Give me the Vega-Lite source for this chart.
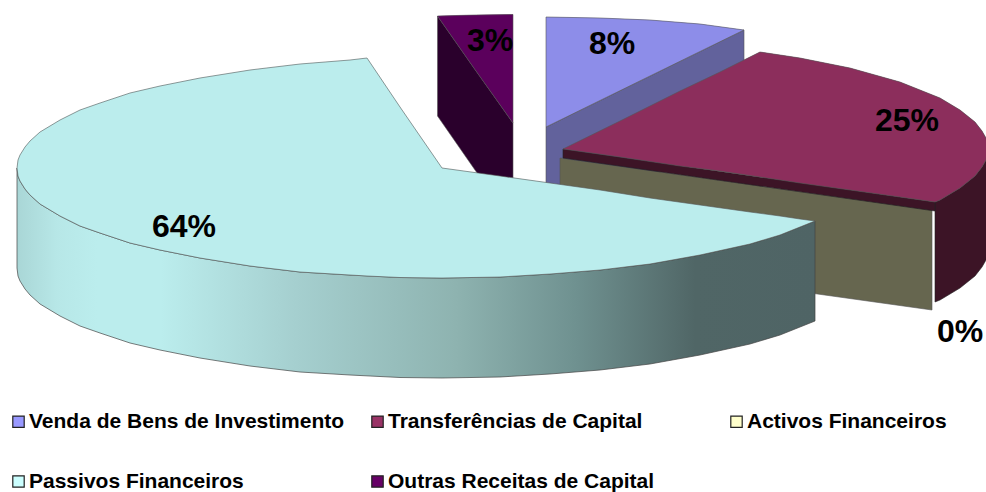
{
"$schema":"https://vega.github.io/schema/vega-lite/v6.json",
"width":986,"height":492,"padding":0,
"autosize":{"type":"none"},
"background":"white",
"config":{"view":{"stroke":null}},
"datasets":{
"outline":[
{"slice":"Outras Receitas de Capital","part":"top","x":437.5,"y":16,"y2":16},
{"slice":"Outras Receitas de Capital","part":"top","x":475,"y":15,"y2":69.5},
{"slice":"Outras Receitas de Capital","part":"top","x":513,"y":14.5,"y2":123},
{"slice":"Outras Receitas de Capital","part":"wall","x":437.5,"y":16,"y2":116},
{"slice":"Outras Receitas de Capital","part":"wall","x":475,"y":69.5,"y2":170},
{"slice":"Outras Receitas de Capital","part":"wall","x":513,"y":123,"y2":223},
{"slice":"Venda de Bens de Investimento","part":"top","x":546,"y":17,"y2":127},
{"slice":"Venda de Bens de Investimento","part":"top","x":600,"y":18,"y2":100.5},
{"slice":"Venda de Bens de Investimento","part":"top","x":650,"y":20,"y2":76},
{"slice":"Venda de Bens de Investimento","part":"top","x":700,"y":24,"y2":51.5},
{"slice":"Venda de Bens de Investimento","part":"top","x":744,"y":30,"y2":30},
{"slice":"Venda de Bens de Investimento","part":"wall","x":546,"y":127,"y2":227},
{"slice":"Venda de Bens de Investimento","part":"wall","x":744,"y":30,"y2":130},
{"slice":"Activos Financeiros","part":"wall","x":560,"y":158,"y2":258},
{"slice":"Activos Financeiros","part":"wall","x":932,"y":210,"y2":310},
{"slice":"Transferências de Capital","part":"wall","x":935,"y":202,"y2":302},
{"slice":"Transferências de Capital","part":"wall","x":940,"y":200,"y2":300},
{"slice":"Transferências de Capital","part":"wall","x":960,"y":188,"y2":288},
{"slice":"Transferências de Capital","part":"wall","x":975,"y":176,"y2":276},
{"slice":"Transferências de Capital","part":"wall","x":982,"y":167,"y2":267},
{"slice":"Transferências de Capital","part":"wall","x":986,"y":160,"y2":260},
{"slice":"Transferências de Capital","part":"wall","x":988,"y":149,"y2":249},
{"slice":"Transferências de Capital","part":"front","x":563,"y":149,"y2":158},
{"slice":"Transferências de Capital","part":"front","x":935,"y":202,"y2":211},
{"slice":"Transferências de Capital","part":"top","x":563,"y":149,"y2":149},
{"slice":"Transferências de Capital","part":"top","x":620,"y":121,"y2":157},
{"slice":"Transferências de Capital","part":"top","x":680,"y":91,"y2":166},
{"slice":"Transferências de Capital","part":"top","x":720,"y":72,"y2":171},
{"slice":"Transferências de Capital","part":"top","x":760,"y":52,"y2":177},
{"slice":"Transferências de Capital","part":"top","x":800,"y":58,"y2":183},
{"slice":"Transferências de Capital","part":"top","x":850,"y":68,"y2":190},
{"slice":"Transferências de Capital","part":"top","x":900,"y":82,"y2":197},
{"slice":"Transferências de Capital","part":"top","x":935,"y":96,"y2":202},
{"slice":"Transferências de Capital","part":"top","x":940,"y":98,"y2":200},
{"slice":"Transferências de Capital","part":"top","x":960,"y":110,"y2":188},
{"slice":"Transferências de Capital","part":"top","x":975,"y":122,"y2":176},
{"slice":"Transferências de Capital","part":"top","x":982,"y":131,"y2":167},
{"slice":"Transferências de Capital","part":"top","x":986,"y":138,"y2":160},
{"slice":"Transferências de Capital","part":"top","x":988,"y":149,"y2":149},
{"slice":"Passivos Financeiros","part":"top","x":17,"y":168,"y2":168},
{"slice":"Passivos Financeiros","part":"top","x":18,"y":160,"y2":176},
{"slice":"Passivos Financeiros","part":"top","x":20,"y":155,"y2":181},
{"slice":"Passivos Financeiros","part":"top","x":25,"y":147,"y2":189},
{"slice":"Passivos Financeiros","part":"top","x":30,"y":141,"y2":195},
{"slice":"Passivos Financeiros","part":"top","x":40,"y":132,"y2":204},
{"slice":"Passivos Financeiros","part":"top","x":60,"y":120,"y2":216},
{"slice":"Passivos Financeiros","part":"top","x":80,"y":110,"y2":226},
{"slice":"Passivos Financeiros","part":"top","x":100,"y":103,"y2":233},
{"slice":"Passivos Financeiros","part":"top","x":130,"y":93,"y2":243},
{"slice":"Passivos Financeiros","part":"top","x":160,"y":86,"y2":250},
{"slice":"Passivos Financeiros","part":"top","x":200,"y":78,"y2":258},
{"slice":"Passivos Financeiros","part":"top","x":250,"y":70,"y2":266},
{"slice":"Passivos Financeiros","part":"top","x":300,"y":64,"y2":272},
{"slice":"Passivos Financeiros","part":"top","x":350,"y":60,"y2":275},
{"slice":"Passivos Financeiros","part":"top","x":367,"y":58,"y2":276},
{"slice":"Passivos Financeiros","part":"top","x":400,"y":107,"y2":277.5},
{"slice":"Passivos Financeiros","part":"top","x":442,"y":168,"y2":278},
{"slice":"Passivos Financeiros","part":"top","x":500,"y":176,"y2":277},
{"slice":"Passivos Financeiros","part":"top","x":550,"y":183,"y2":274},
{"slice":"Passivos Financeiros","part":"top","x":600,"y":190,"y2":270},
{"slice":"Passivos Financeiros","part":"top","x":650,"y":198,"y2":264},
{"slice":"Passivos Financeiros","part":"top","x":700,"y":205,"y2":255},
{"slice":"Passivos Financeiros","part":"top","x":750,"y":212,"y2":244},
{"slice":"Passivos Financeiros","part":"top","x":780,"y":216,"y2":235},
{"slice":"Passivos Financeiros","part":"top","x":800,"y":219,"y2":227},
{"slice":"Passivos Financeiros","part":"top","x":815,"y":221,"y2":221},
{"slice":"Passivos Financeiros","part":"wall","x":17,"y":168,"y2":268},
{"slice":"Passivos Financeiros","part":"wall","x":18,"y":176,"y2":276},
{"slice":"Passivos Financeiros","part":"wall","x":20,"y":181,"y2":281},
{"slice":"Passivos Financeiros","part":"wall","x":25,"y":189,"y2":289},
{"slice":"Passivos Financeiros","part":"wall","x":30,"y":195,"y2":295},
{"slice":"Passivos Financeiros","part":"wall","x":40,"y":204,"y2":304},
{"slice":"Passivos Financeiros","part":"wall","x":60,"y":216,"y2":316},
{"slice":"Passivos Financeiros","part":"wall","x":80,"y":226,"y2":326},
{"slice":"Passivos Financeiros","part":"wall","x":100,"y":233,"y2":333},
{"slice":"Passivos Financeiros","part":"wall","x":130,"y":243,"y2":343},
{"slice":"Passivos Financeiros","part":"wall","x":160,"y":250,"y2":350},
{"slice":"Passivos Financeiros","part":"wall","x":200,"y":258,"y2":358},
{"slice":"Passivos Financeiros","part":"wall","x":250,"y":266,"y2":366},
{"slice":"Passivos Financeiros","part":"wall","x":300,"y":272,"y2":372},
{"slice":"Passivos Financeiros","part":"wall","x":350,"y":275,"y2":375},
{"slice":"Passivos Financeiros","part":"wall","x":400,"y":277.5,"y2":377.5},
{"slice":"Passivos Financeiros","part":"wall","x":442,"y":278,"y2":378},
{"slice":"Passivos Financeiros","part":"wall","x":500,"y":277,"y2":377},
{"slice":"Passivos Financeiros","part":"wall","x":550,"y":274,"y2":374},
{"slice":"Passivos Financeiros","part":"wall","x":600,"y":270,"y2":370},
{"slice":"Passivos Financeiros","part":"wall","x":650,"y":264,"y2":364},
{"slice":"Passivos Financeiros","part":"wall","x":700,"y":255,"y2":355},
{"slice":"Passivos Financeiros","part":"wall","x":750,"y":244,"y2":344},
{"slice":"Passivos Financeiros","part":"wall","x":780,"y":235,"y2":335},
{"slice":"Passivos Financeiros","part":"wall","x":800,"y":227,"y2":327},
{"slice":"Passivos Financeiros","part":"wall","x":815,"y":221,"y2":321}
],
"labels":[
{"label":"3%","x":490,"y":41},
{"label":"8%","x":612,"y":44},
{"label":"25%","x":907,"y":121},
{"label":"64%","x":184,"y":227},
{"label":"0%","x":960,"y":332}
]},
"data":{"name":"outline"},
"encoding":{
"x":{"field":"x","type":"quantitative","scale":{"domain":[0,986],"nice":false,"zero":false},"axis":null},
"y":{"field":"y","type":"quantitative","stack":null,"scale":{"domain":[492,0],"nice":false,"zero":false},"axis":null},
"y2":{"field":"y2"}
},
"layer":[
{"transform":[{"filter":"datum.part==='top'"}],
 "mark":{"type":"area","orient":"vertical"},
 "encoding":{"color":{"field":"slice","type":"nominal","sort":null,
  "scale":{"domain":["Venda de Bens de Investimento","Transferências de Capital","Activos Financeiros","Passivos Financeiros","Outras Receitas de Capital"],"range":["#9999ff","#993366","#ffffcc","#ccffff","#660066"]},
  "legend":{"title":null,"orient":"none","legendX":8,"legendY":411,"direction":"horizontal","columns":3,"gridAlign":"all","columnPadding":22,"rowPadding":38,"symbolType":"square","symbolSize":130,"symbolStrokeColor":"#222222","symbolStrokeWidth":1.2,"labelFont":"Liberation Sans","labelFontWeight":"bold","labelFontSize":21,"labelColor":"#000000","labelLimit":400,"labelOffset":0}}}},
{"transform":[{"filter":"datum.part==='wall' && datum.slice==='Outras Receitas de Capital'"}],"mark":{"type":"area","orient":"vertical","color":"#2a002c","stroke":"#555555","strokeWidth":0.6}},
{"transform":[{"filter":"datum.part==='wall' && datum.slice==='Venda de Bens de Investimento'"}],"mark":{"type":"area","orient":"vertical","color":"#62629c","stroke":"#555555","strokeWidth":0.6}},
{"transform":[{"filter":"datum.part==='wall' && datum.slice==='Activos Financeiros'"}],"mark":{"type":"area","orient":"vertical","color":"#66664f","stroke":"#555555","strokeWidth":0.6}},
{"transform":[{"filter":"datum.part==='wall' && datum.slice==='Transferências de Capital'"}],"mark":{"type":"area","orient":"vertical","color":"#3c1426","stroke":"#222222","strokeWidth":0.6}},
{"transform":[{"filter":"datum.part==='front'"}],"mark":{"type":"area","orient":"vertical","color":"#3c1426","stroke":"#222222","strokeWidth":0.6}},
{"transform":[{"filter":"datum.part==='wall' && datum.slice==='Passivos Financeiros'"}],
 "mark":{"type":"area","orient":"vertical","stroke":"#444444","strokeWidth":0.7,
 "color":{"gradient":"linear","x1":0,"x2":1,"y1":0,"y2":0,"stops":[
 {"offset":0,"color":"#a9d6d6"},{"offset":0.05,"color":"#b7e7e7"},{"offset":0.1,"color":"#bbeded"},{"offset":0.18,"color":"#bbeded"},{"offset":0.35,"color":"#a5cfcf"},{"offset":0.55,"color":"#8eb3b0"},{"offset":0.7,"color":"#6f9190"},{"offset":0.85,"color":"#506666"},{"offset":1,"color":"#4f6465"}]}}},
{"transform":[{"filter":"datum.part==='top'"}],
 "mark":{"type":"area","orient":"vertical","stroke":"#555555","strokeWidth":0.6},
 "encoding":{"color":{"field":"slice","type":"nominal","legend":null,
  "scale":{"domain":["Venda de Bens de Investimento","Transferências de Capital","Passivos Financeiros","Outras Receitas de Capital"],"range":["#8d8de9","#8c2e5c","#bbeded","#5b005c"]}}}},
{"data":{"name":"labels"},
 "mark":{"type":"text","font":"Liberation Sans","fontWeight":"bold","fontSize":32,"color":"#000000","align":"center","baseline":"middle"},
 "encoding":{"text":{"field":"label","type":"nominal"},"y2":{"value":null}}}
],
"resolve":{"scale":{"color":"independent"}}
}
